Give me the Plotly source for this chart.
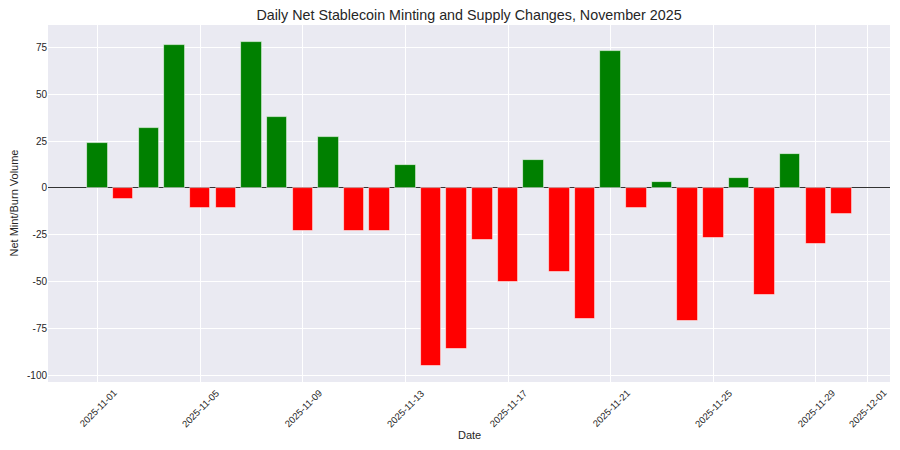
import plotly.graph_objects as go
import pandas as pd

dates = pd.date_range("2025-11-01", "2025-11-30", freq="D").strftime("%Y-%m-%d").tolist()
net_volume = [24, -6, 32, 76, -11, -11, 78, 38, -23, 27,
              -23, -23, 12, -95, -86, -28, -50, 15, -45, -70,
              73, -11, 3, -71, -27, 5, -57, 18, -30, -14]
tick_dates = ["2025-11-01", "2025-11-05", "2025-11-09", "2025-11-13", "2025-11-17",
              "2025-11-21", "2025-11-25", "2025-11-29", "2025-12-01"]
y_ticks = [-100, -75, -50, -25, 0, 25, 50, 75]

colors = ["#008000" if v >= 0 else "#FF0000" for v in net_volume]
FONT = "Liberation Sans, Arial, sans-serif"
TXT = "#262626"

PL, PR, PT, PB = 48, 10, 25, 68
pw, ph = 900 - PL - PR, 450 - PT - PB

fig = go.Figure()
fig.add_trace(go.Bar(
    x=dates, y=net_volume,
    marker=dict(color=colors, line=dict(color="rgba(255,255,255,0.7)", width=0.8)),
    width=0.8 * 86400000,
    showlegend=False,
))

annotations = [
    dict(x=d, y=-26 / ph, xref="x", yref="paper", text=d, showarrow=False,
         textangle=-45, xanchor="center", yanchor="middle",
         font=dict(family=FONT, size=9.5, color=TXT))
    for d in tick_dates
]
annotations.append(dict(x=0.5, y=-(435 - (450 - PB)) / ph, xref="paper", yref="paper", text="Date",
                        showarrow=False, xanchor="center", yanchor="middle",
                        font=dict(family=FONT, size=11, color=TXT)))
annotations.append(dict(x=(13 - PL) / pw, y=0.5, xref="paper", yref="paper",
                        text="Net Mint/Burn Volume",
                        showarrow=False, xanchor="center", yanchor="middle", textangle=-90,
                        font=dict(family=FONT, size=11, color=TXT)))

fig.update_layout(
    width=900, height=450,
    margin=dict(l=PL, r=PR, t=PT, b=PB, autoexpand=False),
    paper_bgcolor="white",
    plot_bgcolor="#EAEAF2",
    title=dict(text="Daily Net Stablecoin Minting and Supply Changes, November 2025",
               x=(PL + 900 - PR) / 2 / 900, xanchor="center",
               y=1 - 15 / 450, yref="container", yanchor="middle",
               font=dict(family=FONT, size=14.3, color=TXT)),
    font=dict(family=FONT, size=10, color=TXT),
    bargap=0,
    annotations=annotations,
)
fig.update_xaxes(
    type="date",
    range=["2025-10-30 01:40", "2025-12-01 21:20"],
    tickvals=tick_dates,
    showticklabels=False,
    showgrid=True, gridcolor="white", gridwidth=1,
    zeroline=False, showline=False, automargin=False,
)
fig.update_yaxes(
    range=[-103.6, 86.9],
    tickvals=y_ticks,
    ticktext=[str(v) for v in y_ticks],
    tickfont=dict(family=FONT, size=10, color=TXT),
    showgrid=True, gridcolor="white", gridwidth=1,
    zeroline=True, zerolinecolor="#333333", zerolinewidth=1.2,
    showline=False, automargin=False,
)

fig.write_html("out.html", config={"displayModeBar": False},
               post_script="document.body.style.margin='0';")
